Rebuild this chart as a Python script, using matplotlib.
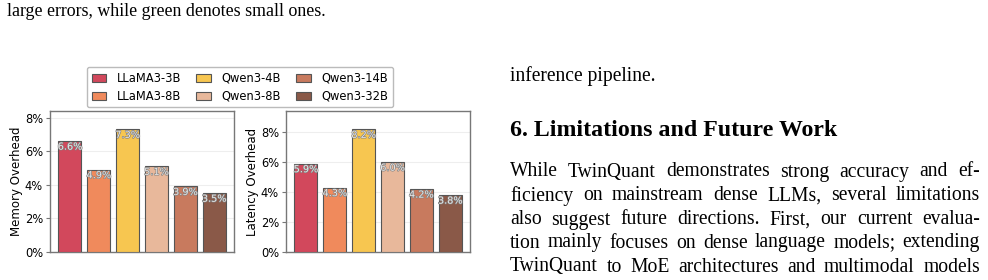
import matplotlib
matplotlib.use("Agg")
import matplotlib.pyplot as plt
import matplotlib.patheffects as pe
from matplotlib.patches import Patch

# data
models = ["LLaMA3-3B", "LLaMA3-8B", "Qwen3-4B", "Qwen3-8B", "Qwen3-14B", "Qwen3-32B"]
memory_overhead = [6.6, 4.9, 7.3, 5.1, 3.9, 3.5]
latency_overhead = [5.9, 4.3, 8.2, 6.0, 4.2, 3.8]
colors = ["#D2485C", "#F08A5C", "#F7C650", "#E8B89B", "#C87A5E", "#8A5948"]
yticks = [0, 2, 4, 6, 8]

caption = "large errors, while green denotes small ones."
prev_line = "inference pipeline."
heading = "6. Limitations and Future Work"
body_lines = [
    "While TwinQuant demonstrates strong accuracy and ef-",
    "ficiency on mainstream dense LLMs, several limitations",
    "also suggest future directions.  First, our current evalua-",
    "tion mainly focuses on dense language models; extending",
    "TwinQuant to MoE architectures and multimodal models",
]

W, H = 988, 280
fig = plt.figure(figsize=(W / 100, H / 100), dpi=100)


def px(x, y):
    return x / W, 1 - y / H


def bar_panel(rect, values, ylabel):
    ax = fig.add_axes(rect)
    xs = range(len(values))
    bars = ax.bar(xs, values, width=0.8, color=colors, edgecolor="#555555", linewidth=0.8, zorder=3)
    for b, v in zip(bars, values):
        ax.text(b.get_x() + b.get_width() / 2, v - 0.03, f"{v:.1f}%", ha="center", va="top",
                fontsize=7, color="#e8e8e8", zorder=4,
                path_effects=[pe.withStroke(linewidth=0.9, foreground="#808080")])
    ax.set_ylim(0, max(values) * 1.15)
    ax.set_yticks(yticks)
    ax.set_yticklabels([f"{t}%" for t in yticks], fontsize=8.3)
    ax.set_xticks([])
    ax.set_ylabel(ylabel, fontsize=8.5, labelpad=1.5)
    ax.grid(axis="y", color="#eeeeee", linewidth=0.8, zorder=0)
    for s in ax.spines.values():
        s.set_color("#777777")
        s.set_linewidth(1.0)
    ax.tick_params(axis="y", length=3, width=0.8, color="#777777", pad=2)
    return ax


bar_panel([50 / W, 1 - 252 / H, 184 / W, 141 / H], memory_overhead, "Memory Overhead")
bar_panel([286 / W, 1 - 252 / H, 184 / W, 141 / H], latency_overhead, "Latency Overhead")

handles = [Patch(facecolor=c, edgecolor="#555555", linewidth=0.8, label=m) for c, m in zip(colors, models)]
fig.legend(handles=handles, ncol=3, loc="upper left", bbox_to_anchor=px(87, 67),
           fontsize=8.3, frameon=True, fancybox=True, edgecolor="#aaaaaa",
           handlelength=1.25, handletextpad=0.95, columnspacing=1.3,
           labelspacing=0.45, borderpad=0.4, borderaxespad=0)

serif = "Liberation Serif"
fig.text(*px(7, 12), caption, fontsize=12.9, family=serif, va="center", ha="left")
fig.text(*px(510, 76), prev_line, fontsize=14.1, family=serif, va="center", ha="left")
fig.text(*px(510, 131), heading, fontsize=17.2, family=serif, weight="bold", va="center", ha="left")

# justified body text
renderer = fig.canvas.get_renderer()
x0, x1 = 510, 980
line_y = [172, 196, 220, 243, 267]
for line, y in zip(body_lines, line_y):
    words = line.split()
    texts = [fig.text(*px(x0, y), w, fontsize=14.1, family=serif, va="center", ha="left") for w in words]
    widths = [t.get_window_extent(renderer).width for t in texts]
    gap = (x1 - x0 - sum(widths)) / (len(words) - 1)
    x = x0
    for t, w in zip(texts, widths):
        t.set_x(x / W)
        x += w + gap

fig.savefig("out.png", dpi=100)
